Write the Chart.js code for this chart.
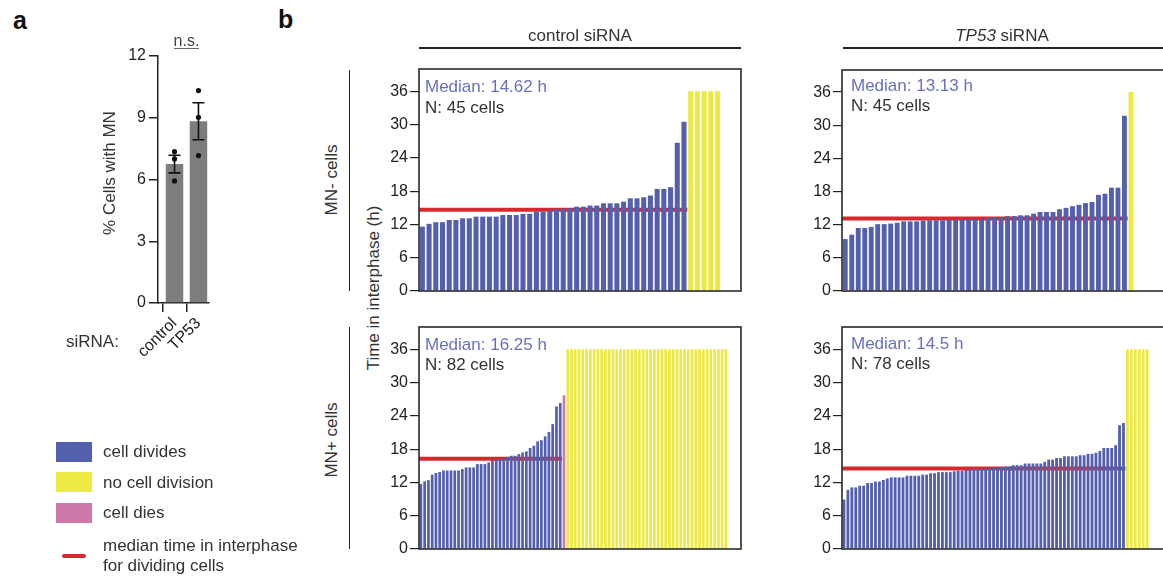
<!DOCTYPE html>
<html><head><meta charset="utf-8">
<script src="https://cdn.jsdelivr.net/npm/chart.js@4/dist/chart.umd.min.js"></script>
<style>
html,body{margin:0;padding:0;width:1163px;height:578px;overflow:hidden;background:#fff;font-family:"Liberation Sans",Arial,sans-serif;color:#333;}
canvas{position:absolute;}
.t{position:absolute;white-space:nowrap;font-size:17px;color:#333;line-height:1;}
.c{transform:translate(-50%,-50%);}
.r{transform:translate(-50%,-50%) rotate(-90deg);}
.l{transform:translateY(-50%);}
.hl{position:absolute;height:1.5px;background:#222;}
.vl{position:absolute;width:1.5px;background:#222;}
.sw{position:absolute;width:36px;height:20px;}
.med{color:#6870be;}
</style></head><body>

<div class="t" style="left:13px;top:8px;font-size:25px;font-weight:bold;color:#111;">a</div>
<div class="t" style="left:278px;top:7px;font-size:25px;font-weight:bold;color:#111;">b</div>

<!-- panel a -->
<canvas id="ca" width="119" height="333" style="left:100px;top:40px"></canvas>
<div class="t c" style="left:186.5px;top:41px;font-size:16px;color:#444;">n.s.</div>
<div class="hl" style="left:174px;top:47.5px;width:25px;background:#666;"></div>
<div class="t r" style="left:109px;top:173px;">% Cells with MN</div>
<div class="t l" style="left:66px;top:341px;">siRNA:</div>

<!-- panel b headers -->
<div class="t c" style="left:580px;top:35px;">control siRNA</div>
<div class="hl" style="left:419px;top:47px;width:322px;"></div>
<div class="t c" style="left:1002px;top:35px;"><i>TP53</i> siRNA</div>
<div class="hl" style="left:843px;top:47px;width:330px;"></div>
<div class="vl" style="left:348.5px;top:70px;height:221px;"></div>
<div class="vl" style="left:348.5px;top:327px;height:222px;"></div>
<div class="t r" style="left:331px;top:180px;">MN- cells</div>
<div class="t r" style="left:331px;top:440px;">MN+ cells</div>
<div class="t r" style="left:373px;top:288px;">Time in interphase (h)</div>

<canvas id="tl" width="366" height="250" style="left:379px;top:55px"></canvas>
<canvas id="tr" width="368" height="249" style="left:802px;top:56px"></canvas>
<canvas id="bl" width="366" height="250" style="left:379px;top:313px"></canvas>
<canvas id="br" width="368" height="250" style="left:802px;top:313px"></canvas>

<div class="t l med" id="tlM" style="left:425px;top:86px;"></div>
<div class="t l" id="tlN" style="left:425px;top:106.5px;"></div>
<div class="t l med" id="trM" style="left:851px;top:84.5px;"></div>
<div class="t l" id="trN" style="left:851px;top:105px;"></div>
<div class="t l med" id="blM" style="left:425px;top:344px;"></div>
<div class="t l" id="blN" style="left:425px;top:364px;"></div>
<div class="t l med" id="brM" style="left:851px;top:343px;"></div>
<div class="t l" id="brN" style="left:851px;top:363px;"></div>

<!-- legend -->
<div class="sw" style="left:56px;top:442px;background:#545fae;"></div>
<div class="t l" style="left:103px;top:451px;">cell divides</div>
<div class="sw" style="left:56px;top:472px;background:#ece943;"></div>
<div class="t l" style="left:103px;top:482px;">no cell division</div>
<div class="sw" style="left:56px;top:503px;background:#cd78a6;"></div>
<div class="t l" style="left:103px;top:512px;">cell dies</div>
<div style="position:absolute;left:62px;top:554px;width:24px;height:4px;border-radius:2px;background:#d7282d;"></div>
<div class="t l" style="left:103px;top:545px;">median time in interphase</div>
<div class="t l" style="left:103px;top:565px;">for dividing cells</div>

<script>
// ---- panel a data ----
const siRNA = ['control', 'TP53'];
const mnMean = [6.75, 8.83];
const mnSem = [0.43, 0.90];
const mnReplicates = [[7.35, 7.0, 5.93], [10.32, 9.02, 7.16]];
const pctTicks = [0, 3, 6, 9, 12];

// ---- panel b data (hours) ----
const hourTicks = [0, 6, 12, 18, 24, 30, 36];

const ctrlMinusDivides = [11.6, 12.1, 12.4, 12.4, 12.8, 12.8, 13.1, 13.1, 13.4, 13.4, 13.4, 13.4, 13.7, 13.7, 13.7, 13.9, 13.9, 14.3, 14.3, 14.55, 14.7, 14.75, 14.9, 15.2, 15.2, 15.4, 15.4, 15.8, 15.8, 15.8, 16.1, 16.7, 16.7, 16.9, 17.2, 18.4, 18.4, 18.7, 26.7, 30.5];
const ctrlMinusDies = [];
const ctrlMinusNoDivision = [36, 36, 36, 36, 36];
const ctrlMinusMedian = 14.62;

const tp53MinusDivides = [9.4, 10.2, 11.4, 11.4, 11.6, 12.1, 12.1, 12.2, 12.35, 12.6, 12.6, 12.6, 12.75, 12.8, 12.8, 12.8, 12.9, 12.9, 12.9, 12.95, 13.0, 13.0, 13.25, 13.25, 13.25, 13.55, 13.55, 13.7, 13.7, 14.0, 14.3, 14.3, 14.3, 14.8, 15.05, 15.35, 15.6, 15.9, 16.1, 17.4, 17.6, 18.7, 18.7, 31.7];
const tp53MinusDies = [];
const tp53MinusNoDivision = [36];
const tp53MinusMedian = 13.13;

const ctrlPlusDivides = [11.7, 12.2, 12.4, 13.4, 13.7, 13.85, 14.15, 14.15, 14.15, 14.15, 14.15, 14.4, 14.7, 14.7, 14.7, 15.3, 15.3, 15.3, 15.6, 16.1, 16.1, 16.2, 16.3, 16.6, 16.8, 16.8, 17.1, 17.4, 17.6, 18.2, 18.6, 19.4, 19.6, 20.3, 21.1, 22.5, 25.7, 26.3];
const ctrlPlusDies = [27.7];
const ctrlPlusNoDivision = [36, 36, 36, 36, 36, 36, 36, 36, 36, 36, 36, 36, 36, 36, 36, 36, 36, 36, 36, 36, 36, 36, 36, 36, 36, 36, 36, 36, 36, 36, 36, 36, 36, 36, 36, 36, 36, 36, 36, 36, 36, 36, 36];
const ctrlPlusMedian = 16.25;

const tp53PlusDivides = [8.9, 10.65, 11.1, 11.1, 11.4, 11.4, 11.9, 11.9, 12.15, 12.15, 12.45, 12.7, 12.9, 12.9, 12.9, 12.9, 13.2, 13.2, 13.2, 13.2, 13.4, 13.4, 13.65, 13.65, 13.85, 13.85, 13.85, 13.85, 14.0, 14.1, 14.1, 14.3, 14.3, 14.4, 14.4, 14.4, 14.5, 14.5, 14.6, 14.6, 14.75, 14.85, 14.85, 15.1, 15.1, 15.1, 15.4, 15.4, 15.4, 15.4, 15.4, 15.7, 16.1, 16.1, 16.4, 16.4, 16.7, 16.7, 16.7, 16.7, 16.9, 16.9, 17.15, 17.15, 17.35, 17.65, 18.2, 18.2, 18.2, 18.7, 22.3, 22.7];
const tp53PlusDies = [];
const tp53PlusNoDivision = [36, 36, 36, 36, 36, 36];
const tp53PlusMedian = 14.5;

// ---- styles ----
const BLUE = '#545fae', YELLOW = '#ece943', PINK = '#cd78a6', RED = '#d7282d', GRAY = '#7b7e7b', INK = '#222';
Chart.defaults.font.family = "'Liberation Sans', Arial, sans-serif";
Chart.defaults.color = INK;

const frame = {
  id: 'frame',
  afterDatasetsDraw(c) {
    const { ctx, chartArea: a } = c;
    ctx.save();
    ctx.strokeStyle = '#2a2a2a';
    ctx.lineWidth = 1.6;
    ctx.strokeRect(a.left, a.top, a.right - a.left, a.bottom - a.top);
    ctx.restore();
  }
};

function makeB(id, divides, dies, noDiv, median, xMax, barPct) {
  const nD = divides.length, nX = dies.length;
  const pts = (arr, off) => arr.map((v, i) => ({ x: off + i + 0.5, y: v }));
  new Chart(document.getElementById(id), {
    type: 'bar',
    data: {
      datasets: [
        { label: 'cell divides', data: pts(divides, 0), backgroundColor: BLUE, grouped: false, order: 1 },
        { label: 'cell dies', data: pts(dies, nD), backgroundColor: PINK, grouped: false, order: 1 },
        { label: 'no cell division', data: pts(noDiv, nD + nX), backgroundColor: YELLOW, grouped: false, order: 1 },
        { type: 'line', label: 'median', data: [{ x: 0, y: median }, { x: nD, y: median }], borderColor: RED, borderWidth: 4, pointRadius: 0, order: 5 }
      ]
    },
    options: {
      responsive: false, animation: false, events: [],
      layout: { padding: { top: 14, right: 4, bottom: 14, left: 0 } },
      plugins: { legend: { display: false }, tooltip: { enabled: false } },
      datasets: { bar: { barPercentage: barPct, categoryPercentage: 1 } },
      scales: {
        x: { type: 'linear', display: false, offset: false, min: 0, max: xMax },
        y: {
          type: 'linear', min: 0, max: 40,
          afterBuildTicks: s => { s.ticks = hourTicks.map(v => ({ value: v })); },
          afterFit: s => { s.width = 40; },
          ticks: { font: { size: 16 }, color: INK, padding: 2 },
          grid: { display: true, drawOnChartArea: false, drawTicks: true, tickLength: 9, color: INK, lineWidth: 1.2 },
          border: { display: false }
        }
      }
    },
    plugins: [frame]
  });
  document.getElementById(id + 'M').textContent = 'Median: ' + median + ' h';
  document.getElementById(id + 'N').textContent = 'N: ' + (nD + nX + noDiv.length) + ' cells';
}

makeB('tl', ctrlMinusDivides, ctrlMinusDies, ctrlMinusNoDivision, ctrlMinusMedian, 48, 0.75);
makeB('tr', tp53MinusDivides, tp53MinusDies, tp53MinusNoDivision, tp53MinusMedian, 49.9, 0.75);
makeB('bl', ctrlPlusDivides, ctrlPlusDies, ctrlPlusNoDivision, ctrlPlusMedian, 85.5, 0.72);
makeB('br', tp53PlusDivides, tp53PlusDies, tp53PlusNoDivision, tp53PlusMedian, 82.3, 0.72);

// ---- panel a ----
const errPts = [];
siRNA.forEach((_, i) => {
  const hi = mnMean[i] + mnSem[i], lo = mnMean[i] - mnSem[i];
  errPts.push({ x: i - 0.25, y: hi }, { x: i + 0.25, y: hi }, { x: i, y: null },
              { x: i, y: hi }, { x: i, y: lo }, { x: i, y: null },
              { x: i - 0.25, y: lo }, { x: i + 0.25, y: lo }, { x: i, y: null });
});
const repPts = [];
mnReplicates.forEach((reps, i) => reps.forEach(v => repPts.push({ x: i, y: v })));

new Chart(document.getElementById('ca'), {
  type: 'bar',
  data: {
    datasets: [
      { label: '% cells with MN', data: siRNA.map((_, i) => ({ x: i, y: mnMean[i] })), backgroundColor: GRAY, barPercentage: 0.73, categoryPercentage: 1, order: 3 },
      { type: 'line', label: 'SEM', data: errPts, borderColor: '#111', borderWidth: 1.6, pointRadius: 0, spanGaps: false, order: 2 },
      { type: 'line', label: 'replicates', data: repPts, showLine: false, pointRadius: 2.6, pointBackgroundColor: '#111', pointBorderWidth: 0, order: 1 }
    ]
  },
  options: {
    responsive: false, animation: false, events: [],
    layout: { padding: { top: 16, right: 10, bottom: 0, left: 0 } },
    plugins: { legend: { display: false }, tooltip: { enabled: false } },
    scales: {
      x: {
        type: 'linear', offset: false, min: -0.69, max: 1.44,
        afterBuildTicks: s => { s.ticks = siRNA.map((_, i) => ({ value: i })); },
        afterFit: s => { s.height = 70; },
        ticks: { callback: v => siRNA[v], minRotation: 45, maxRotation: 45, font: { size: 16 }, color: INK, padding: 2, autoSkip: false },
        grid: { display: true, drawOnChartArea: false, tickLength: 9, color: INK, lineWidth: 1.5 },
        border: { color: INK, width: 1.5 }
      },
      y: {
        type: 'linear', min: 0, max: 12,
        afterBuildTicks: s => { s.ticks = pctTicks.map(v => ({ value: v })); },
        afterFit: s => { s.width = 58; },
        ticks: { font: { size: 16 }, color: INK, padding: 3 },
        grid: { display: true, drawOnChartArea: false, tickLength: 9, color: INK, lineWidth: 1.5 },
        border: { color: INK, width: 1.5 }
      }
    }
  }
});
</script>
</body></html>
